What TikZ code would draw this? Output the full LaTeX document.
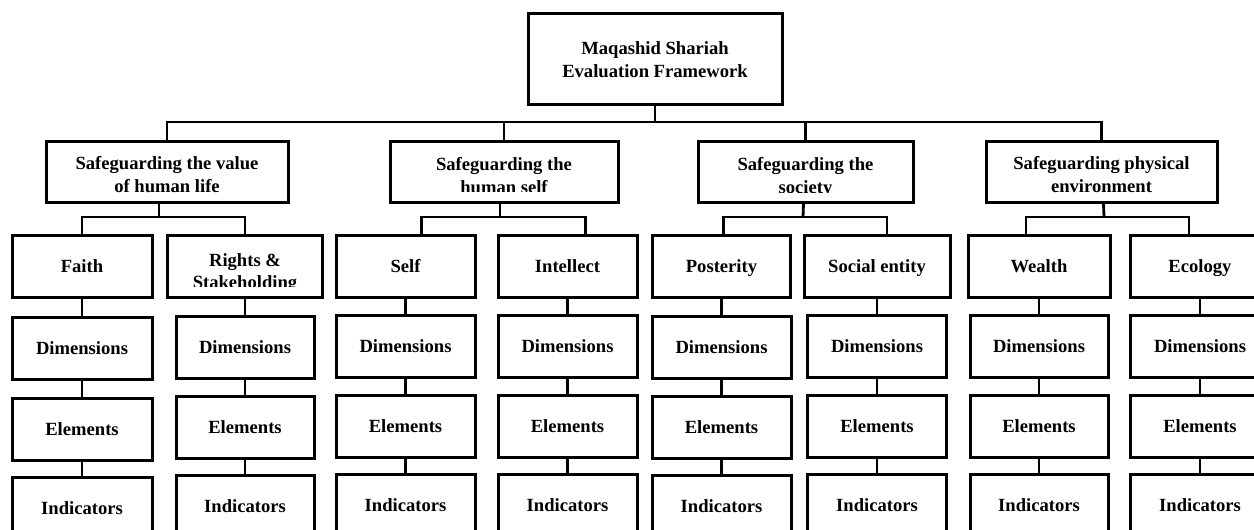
\documentclass[tikz,border=0pt]{standalone}
\usepackage{fontspec}
\setmainfont{Liberation Serif}

\tikzset{
	box/.style={draw, rectangle, line width=1.5pt, inner sep=0pt, minimum height=31pt, text depth=0pt, align=center, font=\bfseries\fontsize{9.3}{11.2}\selectfont},
	link/.style={line width=1.4pt},
	cuttext/.style n args={3}{path picture={
		\clip ([yshift=#1]path picture bounding box.south west) rectangle (path picture bounding box.north east);
		\node [align=center, font=\bfseries\fontsize{9.3}{11.2}\selectfont] at ([yshift=#2]path picture bounding box.center) {#3};}}
}

\begin{document}
\begin{tikzpicture}[x=0.5pt, y=-0.5pt]
		\useasboundingbox (0, 0) rectangle (1254, 530);
		% root
		\node [box, minimum width=127pt, minimum height=45.5pt] (top) at (655, 58.5) {\raisebox{-1pt}{\shortstack{Maqashid Shariah\\Evaluation Framework}}};
		% four safeguards
		\node [box, minimum width=121pt, minimum height=30.5pt] (life) at (167, 171.5) {\raisebox{-3pt}{\shortstack{Safeguarding the value\\of human life}}};
		\node [box, minimum width=114pt, minimum height=30.5pt, cuttext={5.2pt}{-2pt}{Safeguarding the\\human self}] (hself) at (504, 171.5) {};
		\node [box, minimum width=107.5pt, minimum height=30.5pt, cuttext={4.6pt}{-2pt}{Safeguarding the\\society}] (society) at (805.5, 171.5) {};
		\node [box, minimum width=115.5pt, minimum height=30.5pt] (envir) at (1101.5, 171.5) {\raisebox{-3pt}{\shortstack{Safeguarding physical\\environment}}};
		% maqasid
		\node [box, minimum width=70pt] (faith) at (82, 266) {Faith};
		\node [box, minimum width=77.5pt, cuttext={5.5pt}{-2.5pt}{Rights \&\\Stakeholding}] (rights) at (245, 266) {};
		\node [box, minimum width=69.5pt] (self) at (405.5, 266) {Self};
		\node [box, minimum width=69.5pt] (intellect) at (567.5, 266) {Intellect};
		\node [box, minimum width=69pt] (posterity) at (721.5, 266) {Posterity};
		\node [box, minimum width=73pt] (social) at (877, 266) {Social entity};
		\node [box, minimum width=71pt] (wealth) at (1039, 266) {Wealth};
		\node [box, minimum width=70pt] (ecology) at (1200, 266) {Ecology};
		% dimensions
		\node [box, minimum width=70pt] (faith-dim) at (82, 348) {Dimensions};
		\node [box, minimum width=69pt] (rights-dim) at (245, 347) {Dimensions};
		\node [box, minimum width=69.5pt] (self-dim) at (405.5, 346) {Dimensions};
		\node [box, minimum width=69.5pt] (intellect-dim) at (567.5, 346) {Dimensions};
		\node [box, minimum width=69.5pt] (posterity-dim) at (721.5, 347) {Dimensions};
		\node [box, minimum width=69.5pt] (social-dim) at (877, 346) {Dimensions};
		\node [box, minimum width=69pt] (wealth-dim) at (1039, 346) {Dimensions};
		\node [box, minimum width=70pt] (ecology-dim) at (1200, 346) {Dimensions};
		% elements
		\node [box, minimum width=70pt] (faith-elem) at (82, 429) {Elements};
		\node [box, minimum width=69pt] (rights-elem) at (245, 427) {Elements};
		\node [box, minimum width=69.5pt] (self-elem) at (405.5, 426) {Elements};
		\node [box, minimum width=69.5pt] (intellect-elem) at (567.5, 426) {Elements};
		\node [box, minimum width=69.5pt] (posterity-elem) at (721.5, 427) {Elements};
		\node [box, minimum width=69.5pt] (social-elem) at (877, 426) {Elements};
		\node [box, minimum width=69pt] (wealth-elem) at (1039, 426) {Elements};
		\node [box, minimum width=70pt] (ecology-elem) at (1200, 426) {Elements};
		% indicators
		\node [box, minimum width=70pt] (faith-ind) at (82, 508) {Indicators};
		\node [box, minimum width=69pt] (rights-ind) at (245, 506) {Indicators};
		\node [box, minimum width=69.5pt] (self-ind) at (405.5, 505) {Indicators};
		\node [box, minimum width=69.5pt] (intellect-ind) at (567.5, 505) {Indicators};
		\node [box, minimum width=69.5pt] (posterity-ind) at (721.5, 506) {Indicators};
		\node [box, minimum width=69.5pt] (social-ind) at (877, 505) {Indicators};
		\node [box, minimum width=69pt] (wealth-ind) at (1039, 505) {Indicators};
		\node [box, minimum width=70pt] (ecology-ind) at (1200, 505) {Indicators};

		% root to safeguards
		\coordinate (b0) at (655, 122);
		\draw [link] (top) -- (b0);
		\draw [link] (life.north) |- (b0) -| (envir.north);
		\draw [link] (hself.north) -- (hself.north |- b0);
		\draw [link] (society.north) -- (society.north |- b0);
		% safeguards to maqasid
		\coordinate (b1) at (159, 217);
		\coordinate (b2) at (500, 217);
		\coordinate (b3) at (803, 217);
		\coordinate (b4) at (1104, 217);
		\draw [link] ([xshift=-4pt]life.south) -- (b1);
		\draw [link] (faith.north) |- (b1) -| (rights.north);
		\draw [link] ([xshift=-2pt]hself.south) -- (b2);
		\draw [link] ([xshift=8pt]self.north) |- (b2) -| ([xshift=9pt]intellect.north);
		\draw [link] ([xshift=-1pt]society.south) -- (b3);
		\draw [link] ([xshift=1pt]posterity.north) |- (b3) -| ([xshift=5pt]social.north);
		\draw [link] ([xshift=1pt]envir.south) -- (b4);
		\draw [link] ([xshift=-6.5pt]wealth.north) |- (b4) -| ([xshift=-5.5pt]ecology.north);
		% columns
		\draw [link] (faith) -- (faith-dim) (faith-dim) -- (faith-elem) (faith-elem) -- (faith-ind);
		\draw [link] (rights) -- (rights-dim) (rights-dim) -- (rights-elem) (rights-elem) -- (rights-ind);
		\draw [link] (self) -- (self-dim) (self-dim) -- (self-elem) (self-elem) -- (self-ind);
		\draw [link] (intellect) -- (intellect-dim) (intellect-dim) -- (intellect-elem) (intellect-elem) -- (intellect-ind);
		\draw [link] (posterity) -- (posterity-dim) (posterity-dim) -- (posterity-elem) (posterity-elem) -- (posterity-ind);
		\draw [link] (social) -- (social-dim) (social-dim) -- (social-elem) (social-elem) -- (social-ind);
		\draw [link] (wealth) -- (wealth-dim) (wealth-dim) -- (wealth-elem) (wealth-elem) -- (wealth-ind);
		\draw [link] (ecology) -- (ecology-dim) (ecology-dim) -- (ecology-elem) (ecology-elem) -- (ecology-ind);
	\end{tikzpicture}
\end{document}
